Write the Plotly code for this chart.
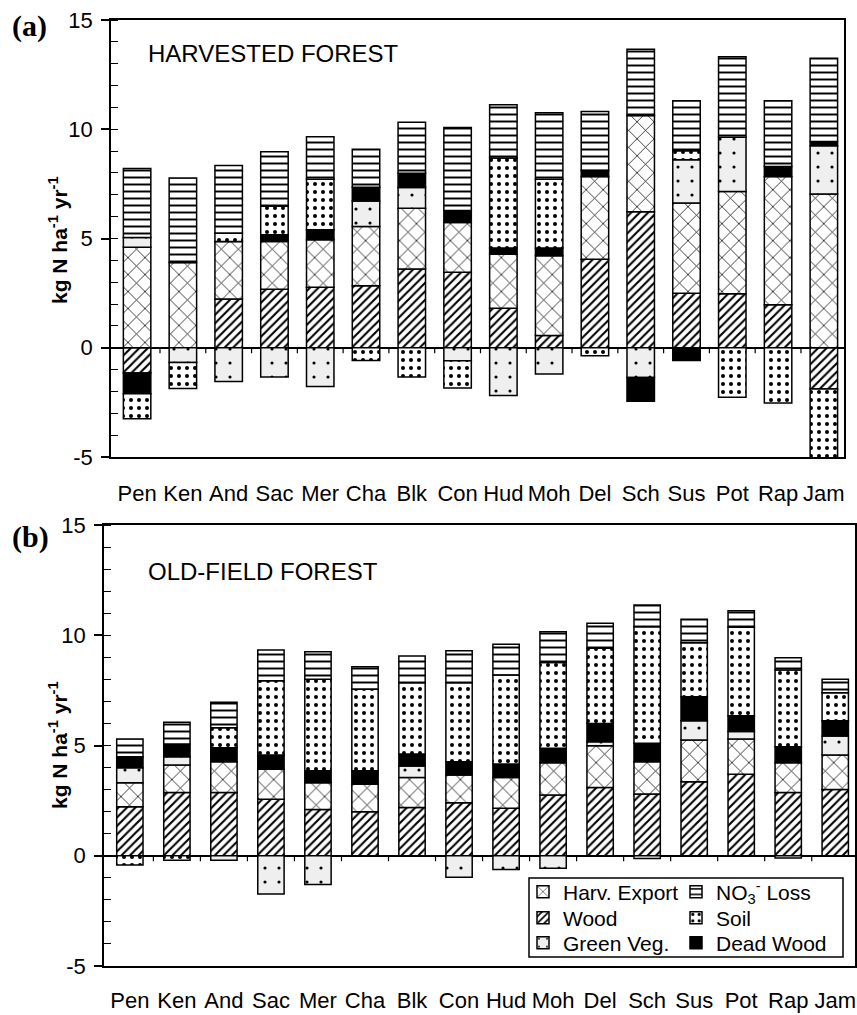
import plotly.graph_objects as go

sites = ["Pen", "Ken", "And", "Sac", "Mer", "Cha", "Blk", "Con",
         "Hud", "Moh", "Del", "Sch", "Sus", "Pot", "Rap", "Jam"]

# ---- (a) Harvested forest, kg N ha-1 yr-1 ----
a_wood  = [-1.15, 0.0, 2.23, 2.68, 2.77, 2.84, 3.60, 3.45, 1.81, 0.56, 4.05, 6.22, 2.50, 2.47, 1.97, -1.89]
a_harv  = [4.60, 3.90, 2.63, 2.18, 2.17, 2.71, 2.79, 2.28, 2.47, 3.65, 3.79, 4.41, 4.12, 4.68, 5.87, 7.04]
a_green = [0.45, -0.67, -1.54, -1.34, -1.77, 1.17, 0.94, -0.59, -2.18, -1.20, 0.0, -1.36, 1.98, 2.48, 0.0, 2.21]
a_dead  = [-0.95, 0.0, 0.0, 0.31, 0.46, 0.63, 0.66, 0.55, 0.28, 0.35, 0.27, -1.09, -0.58, 0.0, 0.45, 0.19]
a_soil  = [-1.15, -1.19, 0.38, 1.31, 2.31, -0.58, -1.34, -1.25, 4.12, 3.15, -0.37, 0.0, 0.42, -2.26, -2.53, -3.15]
a_no3   = [3.15, 3.87, 3.10, 2.49, 1.95, 1.74, 2.33, 3.80, 2.44, 3.05, 2.70, 3.03, 2.29, 3.69, 3.02, 3.81]

# ---- (b) Old-field forest ----
b_wood  = [2.22, 2.87, 2.87, 2.56, 2.10, 2.00, 2.19, 2.40, 2.15, 2.75, 3.10, 2.80, 3.36, 3.70, 2.87, 3.01]
b_harv  = [1.09, 1.24, 1.39, 1.36, 1.21, 1.25, 1.36, 1.26, 1.40, 1.47, 1.89, 1.46, 1.89, 1.59, 1.35, 1.56]
b_green = [0.68, 0.38, -0.20, -1.74, -1.30, 0.0, 0.52, -0.98, -0.62, -0.57, 0.18, -0.12, 0.87, 0.34, -0.10, 0.86]
b_dead  = [0.50, 0.58, 0.64, 0.65, 0.55, 0.61, 0.54, 0.60, 0.61, 0.65, 0.83, 0.84, 1.09, 0.72, 0.72, 0.69]
b_soil  = [-0.42, -0.20, 0.91, 3.37, 4.14, 3.69, 3.24, 3.59, 4.04, 3.89, 3.41, 5.29, 2.45, 4.01, 3.48, 1.27]
b_no3   = [0.80, 0.98, 1.15, 1.39, 1.25, 1.02, 1.21, 1.45, 1.39, 1.40, 1.13, 0.98, 1.06, 0.75, 0.56, 0.62]

y_tickvals = [-5, 0, 5, 10, 15]
y_ticktext = ["-5", "0", "5", "10", "15"]

names = {
    "wood": "Wood", "harv": "Harv. Export", "green": "Green Veg.",
    "dead": "Dead Wood", "soil": "Soil", "no3": "NO<sub>3</sub><sup>-</sup> Loss",
}
styles = {
    "wood":  dict(shape="/", size=6, solidity=0.35, bg="white"),
    "harv":  dict(shape="x", size=12, solidity=0.12, bg="white"),
    "green": dict(shape=".", size=14, solidity=0.04, bg="#efefef"),
    "dead":  None,
    "soil":  dict(shape=".", size=8, solidity=0.2, bg="white"),
    "no3":   dict(shape="-", size=7, solidity=0.28, bg="white"),
}

order = ["wood", "harv", "green", "dead", "soil", "no3"]
panel_a = dict(wood=a_wood, harv=a_harv, green=a_green, dead=a_dead, soil=a_soil, no3=a_no3)
panel_b = dict(wood=b_wood, harv=b_harv, green=b_green, dead=b_dead, soil=b_soil, no3=b_no3)

W, H = 857, 1015


def px(x):
    return x / W


def py(y):
    return 1 - y / H


# one legend per entry so the 2 x 3 grid can be placed exactly
legend_slot = {"harv": ("legend", 523, 892), "no3": ("legend2", 676, 892),
               "wood": ("legend3", 523, 918), "soil": ("legend4", 676, 918),
               "green": ("legend5", 523, 943), "dead": ("legend6", 676, 943)}

fig = go.Figure()


def marker_for(key):
    st = styles[key]
    if st is None:
        return dict(color="black", line=dict(color="black", width=1.5))
    return dict(color="white", line=dict(color="black", width=1.5),
                pattern=dict(shape=st["shape"], size=st["size"], solidity=st["solidity"],
                             fgcolor="black", bgcolor=st["bg"], fillmode="replace"))


for key in order:
    fig.add_trace(go.Bar(x=sites, y=panel_a[key], name=names[key], xaxis="x", yaxis="y",
                         width=0.6, marker=marker_for(key), showlegend=False))
for key in order:
    lg = legend_slot[key][0]
    fig.add_trace(go.Bar(x=sites, y=panel_b[key], name=names[key], xaxis="x2", yaxis="y2",
                         width=0.56, marker=marker_for(key), legend=lg, showlegend=True))

common_x = dict(type="category", showline=True, mirror=True, linecolor="black", linewidth=1.5,
                ticks="", showgrid=False, zeroline=False, fixedrange=True, automargin=False,
                tickfont=dict(family="Liberation Sans, Arial", size=22, color="black"))
common_y = dict(showline=True, mirror=True, linecolor="black", linewidth=1.5,
                range=[-5, 15], tickvals=y_tickvals, ticktext=y_ticktext,
                ticks="outside", ticklen=8, tickwidth=1.5, tickcolor="black",
                minor=dict(dtick=1, ticks="inside", ticklen=7, tickwidth=1, tickcolor="black"),
                tickfont=dict(family="Liberation Sans, Arial", size=22, color="black"),
                showgrid=False, zeroline=True, zerolinecolor="black", zerolinewidth=1.5,
                ticklabelstandoff=4, fixedrange=True, automargin=False)

legend_font = dict(family="Liberation Sans, Arial", size=21, color="black")
layout_legends = {}
for key, (lg, lx, ly) in legend_slot.items():
    layout_legends[lg] = dict(x=px(lx), y=py(ly), xanchor="left", yanchor="middle",
                              bgcolor="rgba(0,0,0,0)", borderwidth=0, font=legend_font,
                              itemwidth=30, itemclick=False, itemdoubleclick=False)

fig.update_layout(
    width=W, height=H,
    margin=dict(l=0, r=0, t=0, b=0, autoexpand=False),
    paper_bgcolor="white", plot_bgcolor="white",
    barmode="relative",
    xaxis=dict(common_x, domain=[px(111), px(844)], anchor="y", range=[-0.57, 15.44],
               ticklabelstandoff=16),
    yaxis=dict(common_y, domain=[py(457), py(20)], anchor="x"),
    xaxis2=dict(common_x, domain=[px(104), px(855)], anchor="y2", range=[-0.55, 15.42],
                ticklabelstandoff=14),
    yaxis2=dict(common_y, domain=[py(966), py(525)], anchor="x2"),
    showlegend=True,
    **layout_legends,
)

# small ticks on the zero line between categories
shapes = []
for i in range(len(sites) - 1):
    shapes.append(dict(type="line", xref="x", yref="y", x0=i + 0.5, x1=i + 0.5, y0=0, y1=-0.25,
                       line=dict(color="black", width=1.2)))
    shapes.append(dict(type="line", xref="x2", yref="y2", x0=i + 0.5, x1=i + 0.5, y0=0, y1=-0.25,
                       line=dict(color="black", width=1.2)))
# legend frame
shapes.append(dict(type="rect", xref="paper", yref="paper", x0=px(529), x1=px(843),
                   y0=py(957), y1=py(878), line=dict(color="black", width=1.5)))
fig.update_layout(shapes=shapes)

ann_font = dict(family="Liberation Sans, Arial", size=24, color="black")
panel_font = dict(family="Liberation Serif, Times New Roman", size=30, color="black")
ytitle = "<b>kg N ha<sup>-1</sup> yr<sup>-1</sup></b>"
fig.update_layout(annotations=[
    dict(text="HARVESTED FOREST", x=px(146), y=py(53), xref="paper", yref="paper",
         xanchor="left", yanchor="middle", showarrow=False, font=ann_font),
    dict(text="OLD-FIELD FOREST", x=px(146), y=py(571), xref="paper", yref="paper",
         xanchor="left", yanchor="middle", showarrow=False, font=ann_font),
    dict(text="<b>(a)</b>", x=px(10), y=py(26), xref="paper", yref="paper",
         xanchor="left", yanchor="middle", showarrow=False, font=panel_font),
    dict(text="<b>(b)</b>", x=px(10), y=py(537), xref="paper", yref="paper",
         xanchor="left", yanchor="middle", showarrow=False, font=panel_font),
    dict(text=ytitle, x=px(58), y=py(240), xref="paper", yref="paper", textangle=-90,
         xanchor="center", yanchor="middle", showarrow=False,
         font=dict(family="Liberation Sans, Arial", size=21, color="black")),
    dict(text=ytitle, x=px(58), y=py(745), xref="paper", yref="paper", textangle=-90,
         xanchor="center", yanchor="middle", showarrow=False,
         font=dict(family="Liberation Sans, Arial", size=21, color="black")),
])

fig.write_html("out.html", config={"displayModeBar": False},
               post_script="document.body.style.margin='0px';")
